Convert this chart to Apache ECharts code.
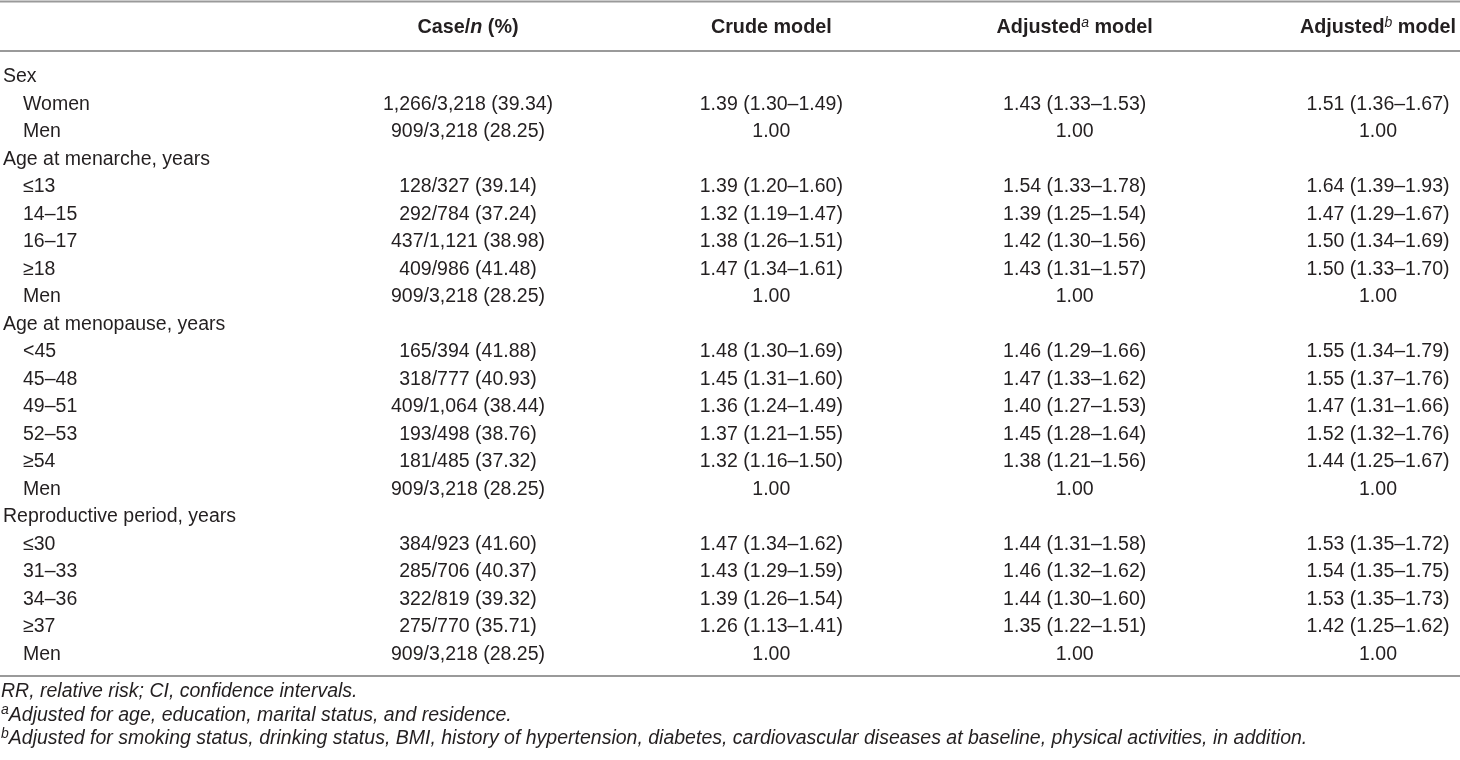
<!DOCTYPE html>
<html>
<head>
<meta charset="utf-8"/>
<title>RR table</title>
<script src="https://cdn.jsdelivr.net/npm/echarts@6/dist/echarts.min.js"></script>
<style>
html,body{margin:0;padding:0;background:#fff;}
#main{width:1460px;height:760px;}
</style>
</head>
<body>
<div id="main"></div>
<script>
// row labels (first column)
var rowLabels = ['Sex', 'Women', 'Men', 'Age at menarche, years', '≤13', '14–15', '16–17', '≥18', 'Men',
    'Age at menopause, years', '<45', '45–48', '49–51', '52–53', '≥54', 'Men',
    'Reproductive period, years', '≤30', '31–33', '34–36', '≥37', 'Men'];

// column headers
var headers = ['Case/n (%)', 'Crude model', 'Adjusted-a model', 'Adjusted-b model'];

var caseN = ['', '1,266/3,218 (39.34)', '909/3,218 (28.25)', '', '128/327 (39.14)', '292/784 (37.24)',
    '437/1,121 (38.98)', '409/986 (41.48)', '909/3,218 (28.25)', '', '165/394 (41.88)', '318/777 (40.93)',
    '409/1,064 (38.44)', '193/498 (38.76)', '181/485 (37.32)', '909/3,218 (28.25)', '', '384/923 (41.60)',
    '285/706 (40.37)', '322/819 (39.32)', '275/770 (35.71)', '909/3,218 (28.25)'];

var crude = ['', '1.39 (1.30–1.49)', '1.00', '', '1.39 (1.20–1.60)', '1.32 (1.19–1.47)', '1.38 (1.26–1.51)',
    '1.47 (1.34–1.61)', '1.00', '', '1.48 (1.30–1.69)', '1.45 (1.31–1.60)', '1.36 (1.24–1.49)',
    '1.37 (1.21–1.55)', '1.32 (1.16–1.50)', '1.00', '', '1.47 (1.34–1.62)', '1.43 (1.29–1.59)',
    '1.39 (1.26–1.54)', '1.26 (1.13–1.41)', '1.00'];

var adjA = ['', '1.43 (1.33–1.53)', '1.00', '', '1.54 (1.33–1.78)', '1.39 (1.25–1.54)', '1.42 (1.30–1.56)',
    '1.43 (1.31–1.57)', '1.00', '', '1.46 (1.29–1.66)', '1.47 (1.33–1.62)', '1.40 (1.27–1.53)',
    '1.45 (1.28–1.64)', '1.38 (1.21–1.56)', '1.00', '', '1.44 (1.31–1.58)', '1.46 (1.32–1.62)',
    '1.44 (1.30–1.60)', '1.35 (1.22–1.51)', '1.00'];

var adjB = ['', '1.51 (1.36–1.67)', '1.00', '', '1.64 (1.39–1.93)', '1.47 (1.29–1.67)', '1.50 (1.34–1.69)',
    '1.50 (1.33–1.70)', '1.00', '', '1.55 (1.34–1.79)', '1.55 (1.37–1.76)', '1.47 (1.31–1.66)',
    '1.52 (1.32–1.76)', '1.44 (1.25–1.67)', '1.00', '', '1.53 (1.35–1.72)', '1.54 (1.35–1.75)',
    '1.53 (1.35–1.73)', '1.42 (1.25–1.62)', '1.00'];

var footnotes = ['RR, relative risk; CI, confidence intervals.',
    'Adjusted for age, education, marital status, and residence.',
    'Adjusted for smoking status, drinking status, BMI, history of hypertension, diabetes, cardiovascular diseases at baseline, physical activities, in addition.'];

var FONT = '"Liberation Sans", Arial, Helvetica, sans-serif';
var INK = '#231f20';
var RULE = '#9a9a9a';

// build cell data: [column index, row index, text]
var columns = [caseN, crude, adjA, adjB];
var cells = [];
for (var j = 0; j < columns.length; j++) {
    for (var i = 0; i < rowLabels.length; i++) {
        if (columns[j][i] !== '') cells.push([j, i, columns[j][i]]);
    }
}

function headerText(h) {
    if (h === 'Case/n (%)') return '{b|Case/}{bi|n}{b| (%)}';
    if (h === 'Adjusted-a model') return '{b|Adjusted}{sup|a}{b| model}';
    if (h === 'Adjusted-b model') return '{b|Adjusted}{sup|b}{b| model}';
    return '{b|' + h + '}';
}

var myChart = echarts.init(document.getElementById('main'));
var W = 1460;

var option = {
    animation: false,
    backgroundColor: '#fff',
    textStyle: {fontFamily: FONT},
    grid: {left: 466, right: 82, top: 63.25, bottom: 91.75},
    xAxis: {
        type: 'category',
        position: 'top',
        boundaryGap: false,
        data: headers,
        axisLine: {show: false},
        axisTick: {show: false},
        splitLine: {show: false},
        axisLabel: {
            interval: 0,
            margin: 36,
            verticalAlign: 'middle',
            formatter: headerText,
            rich: {
                b: {fontFamily: FONT, fontSize: 19.8, fontWeight: 'bold', color: INK, lineHeight: 22},
                bi: {fontFamily: FONT, fontSize: 19.8, fontWeight: 'bold', fontStyle: 'italic', color: INK, lineHeight: 22},
                sup: {fontFamily: FONT, fontSize: 14, fontStyle: 'italic', color: INK, lineHeight: 15, verticalAlign: 'top'}
            }
        }
    },
    yAxis: {
        type: 'category',
        inverse: true,
        data: rowLabels,
        axisLine: {show: false},
        axisTick: {show: false},
        splitLine: {show: false},
        axisLabel: {
            interval: 0,
            margin: 465,
            align: 'left',
            formatter: function (v, idx) {
                return caseN[idx] === '' ? '{g|' + rowLabels[idx] + '}' : '{s|' + rowLabels[idx] + '}';
            },
            rich: {
                g: {fontFamily: FONT, fontSize: 19.5, color: INK},
                s: {fontFamily: FONT, fontSize: 19.5, color: INK, padding: [0, 0, 0, 20]}
            }
        }
    },
    series: [{
        type: 'scatter',
        data: cells,
        symbolSize: 0,
        silent: true,
        itemStyle: {opacity: 1},
        label: {
            show: true,
            position: 'inside',
            formatter: function (p) { return p.data[2]; },
            fontFamily: FONT,
            fontSize: 19.5,
            color: INK,
            opacity: 1
        }
    }],
    title: {
        left: 1,
        top: 680,
        padding: 0,
        text: '{it|' + footnotes[0] + '}\n{sup|a}{it|' + footnotes[1] + '}\n{sup|b}{it|' + footnotes[2] + '}',
        textStyle: {
            fontWeight: 'normal',
            lineHeight: 23.5,
            rich: {
                it: {fontFamily: FONT, fontSize: 19.5, fontStyle: 'italic', color: INK, lineHeight: 23.5},
                sup: {fontFamily: FONT, fontSize: 14, fontStyle: 'italic', color: INK, lineHeight: 15, verticalAlign: 'top'}
            }
        }
    },
    graphic: [
        {type: 'line', silent: true, shape: {x1: 0, y1: 1.5, x2: W, y2: 1.5}, style: {stroke: RULE, lineWidth: 2}},
        {type: 'line', silent: true, shape: {x1: 0, y1: 51, x2: W, y2: 51}, style: {stroke: RULE, lineWidth: 2}},
        {type: 'line', silent: true, shape: {x1: 0, y1: 676, x2: W, y2: 676}, style: {stroke: RULE, lineWidth: 2}}
    ]
};

myChart.setOption(option);
</script>
</body>
</html>
